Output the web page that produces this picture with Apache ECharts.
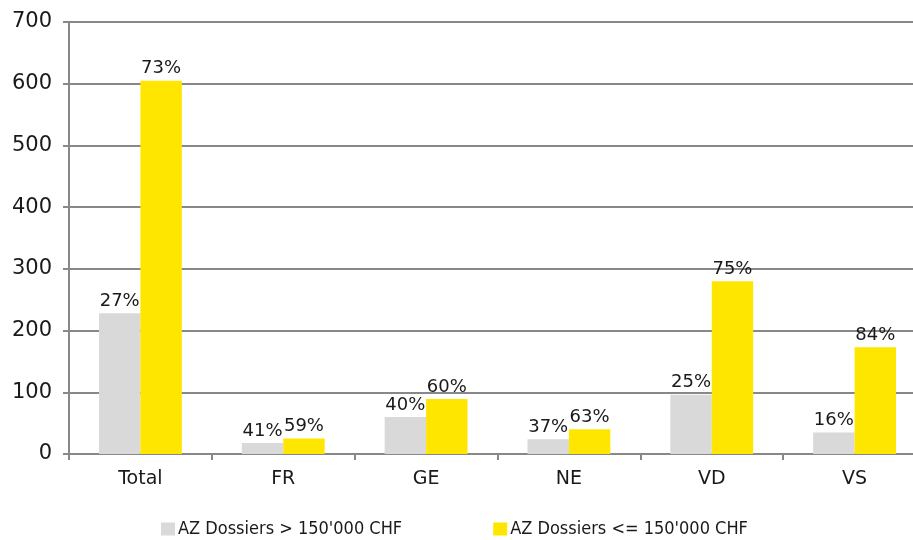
<!DOCTYPE html>
<html>
<head>
<meta charset="utf-8">
<script src="https://cdn.jsdelivr.net/npm/echarts@6/dist/echarts.min.js"></script>
<style>
  html, body { margin: 0; padding: 0; background: #fff; overflow: hidden; }
  /* plot area runs a little past the right edge, like the cropped original */
  #chart { width: 926px; height: 540px; }
</style>
</head>
<body>
<div id="chart"></div>
<script>
// categories + values
var categories = ['Total', 'FR', 'GE', 'NE', 'VD', 'VS'];
var bigDossiers = [228, 18, 60, 24, 96, 35];      // > 150'000 CHF
var smallDossiers = [605, 25, 89, 40, 280, 173];  // <= 150'000 CHF
var bigPct = ['27%', '41%', '40%', '37%', '25%', '16%'];
var smallPct = ['73%', '59%', '60%', '63%', '75%', '84%'];
var yTicks = [0, 100, 200, 300, 400, 500, 600, 700];

var chart = echarts.init(document.getElementById('chart'));

var labelStyle = {
  show: true,
  position: 'top',
  distance: 3,
  color: '#1a1a1a',
  fontSize: 18,
  fontFamily: 'DejaVu Sans'
};

var option = {
  animation: false,
  grid: {
    left: 69,
    top: 22,
    right: 0,
    height: 432
  },
  legend: {
    top: 515,
    left: 156,
    itemWidth: 14,
    itemHeight: 13,
    itemGap: 91,
    icon: 'rect',
    textStyle: {
      fontFamily: 'DejaVu Sans Condensed',
      fontSize: 18,
      color: '#1a1a1a',
      padding: [0, 0, 0, -2]
    },
    data: ["AZ Dossiers > 150'000 CHF", "AZ Dossiers <= 150'000 CHF"]
  },
  xAxis: {
    type: 'category',
    data: categories,
    axisLine: { lineStyle: { color: '#888', width: 2 } },
    axisTick: { show: true, length: 6, lineStyle: { color: '#888', width: 2 } },
    axisLabel: {
      color: '#1a1a1a',
      fontSize: 19,
      fontFamily: 'DejaVu Sans',
      margin: 16
    }
  },
  yAxis: {
    type: 'value',
    min: yTicks[0],
    max: yTicks[yTicks.length - 1],
    interval: 100,
    axisLine: { show: true, lineStyle: { color: '#888', width: 2 } },
    axisTick: { show: true, length: 6, lineStyle: { color: '#888', width: 2 } },
    splitLine: { show: true, lineStyle: { color: '#888', width: 2 } },
    axisLabel: {
      color: '#1a1a1a',
      fontSize: 21,
      fontFamily: 'DejaVu Sans',
      margin: 17
    }
  },
  series: [
    {
      name: "AZ Dossiers > 150'000 CHF",
      type: 'bar',
      data: bigDossiers,
      barGap: 0,
      barCategoryGap: '42%',
      itemStyle: { color: '#d9d9d9' },
      label: Object.assign({}, labelStyle, {
        formatter: function (p) { return bigPct[p.dataIndex]; }
      })
    },
    {
      name: "AZ Dossiers <= 150'000 CHF",
      type: 'bar',
      data: smallDossiers,
      barGap: 0,
      barCategoryGap: '42%',
      itemStyle: { color: '#ffe600' },
      label: Object.assign({}, labelStyle, {
        formatter: function (p) { return smallPct[p.dataIndex]; }
      })
    }
  ]
};

chart.setOption(option);
</script>
</body>
</html>
